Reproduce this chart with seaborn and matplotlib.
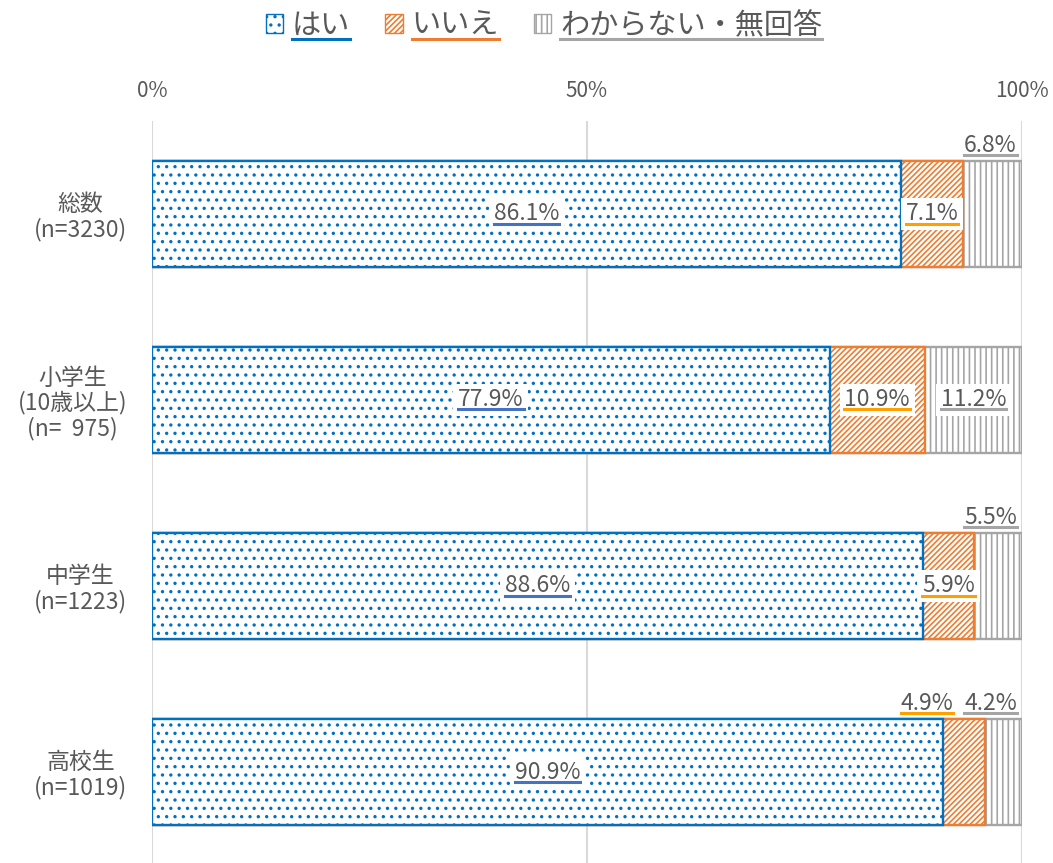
import numpy as np
import pandas as pd
import seaborn as sns
import matplotlib.pyplot as plt
import matplotlib.patches as mypatch
from matplotlib.lines import Line2D

## data
categories = ['総数\n(n=3230)', '小学生\n(10歳以上)\n(n=  975)', '中学生\n(n=1223)', '高校生\n(n=1019)']
series = ['はい', 'いいえ', 'わからない・無回答']
yes_vals = [86.1, 77.9, 88.6, 90.9]
no_vals = [7.1, 10.9, 5.9, 4.9]
dk_vals = [6.8, 11.2, 5.5, 4.2]

## style
plt.rcParams['font.family'] = ['Noto Sans CJK JP', 'DejaVu Sans']
plt.rcParams['hatch.linewidth'] = 1.2
txt_col = '#595959'
colors = {'はい': '#0070C0', 'いいえ': '#ED7D31', 'わからない・無回答': '#A5A5A5'}
hatches = {'はい': '..', 'いいえ': '//////', 'わからない・無回答': '|||'}
line_cols = {'はい': '#4472C4', 'いいえ': '#FFA000', 'わからない・無回答': '#A5A5A5'}
fs = 16.5

df = pd.DataFrame({'cat': categories, 'yes': yes_vals, 'no': no_vals, 'dk': dk_vals})
df['c1'] = df['yes']
df['c2'] = df['yes'] + df['no']
df['c3'] = df['yes'] + df['no'] + df['dk']

fig = plt.figure(figsize=(10.53, 8.63), dpi=100)
ax = fig.add_axes([152/1053, 0, 870/1053, 742/863])

## stacked bars drawn as cumulative, largest first
for col, s in [('c3', series[2]), ('c2', series[1]), ('c1', series[0])]:
    sns.barplot(data=df, y='cat', x=col, orient='h', color='white', saturation=1,
                edgecolor=colors[s], hatch=hatches[s], linewidth=1.7,
                width=0.565, errorbar=None, ax=ax)

ax.set_xlim(0, 100)
ax.set_ylim(-0.5 + 742/186, -0.5)
ax.set_xticks([0, 50, 100])
ax.set_xticklabels(['0%', '50%', '100%'])
ax.xaxis.tick_top()
ax.tick_params(axis='x', length=0, pad=14, labelsize=15, labelcolor=txt_col)
ax.tick_params(axis='y', length=0, pad=18, labelsize=16.5, labelcolor=txt_col)
for lab in ax.get_yticklabels():
    lab.set_ha('right')
    lab.set_multialignment('center')
    lab.set_linespacing(1.08)
ax.set_xlabel('')
ax.set_ylabel('')
ax.grid(axis='x', color='#D9D9D9', linewidth=1.5)
ax.set_axisbelow(True)
for sp in ax.spines.values():
    sp.set_visible(False)

## data labels
labels = []
bbox = dict(facecolor='white', edgecolor='none', pad=3.5)
for i in range(len(categories)):
    t = ax.text(df['yes'][i] / 2, i, f'{yes_vals[i]:.1f}%', ha='center', va='center',
                fontsize=fs, color=txt_col, bbox=bbox)
    labels.append((t, line_cols['はい']))
    # いいえ
    if i == 3:
        t = ax.text(92.1, i - 0.37, f'{no_vals[i]:.1f}%', ha='right', va='center',
                    fontsize=fs, color=txt_col)
    else:
        t = ax.text(df['yes'][i] + no_vals[i] / 2, i, f'{no_vals[i]:.1f}%', ha='center',
                    va='center', fontsize=fs, color=txt_col, bbox=bbox)
    labels.append((t, line_cols['いいえ']))
    # わからない
    if i == 1:
        t = ax.text(df['c2'][i] + dk_vals[i] / 2, i, f'{dk_vals[i]:.1f}%', ha='center',
                    va='center', fontsize=fs, color=txt_col, bbox=bbox)
    else:
        t = ax.text(99.4, i - 0.37, f'{dk_vals[i]:.1f}%', ha='right', va='center',
                    fontsize=fs, color=txt_col)
    labels.append((t, line_cols['わからない・無回答']))

## legend
handles = [mypatch.Patch(facecolor='white', edgecolor=colors[s], hatch=hatches[s], label=s)
           for s in series]
leg = fig.legend(handles=handles, loc='center', bbox_to_anchor=(544/1053, 1 - 26/863),
                 ncol=3, frameon=False, fontsize=21, handlelength=0.6, handleheight=0.6,
                 handletextpad=0.3, columnspacing=1.2, labelcolor=txt_col)
for t, s in zip(leg.get_texts(), series):
    labels.append((t, colors[s]))

## underlines
fig.canvas.draw()
inv = fig.transFigure.inverted()
for t, c in labels:
    bb = t.get_window_extent()
    (x0, y0), (x1, y1) = inv.transform([(bb.x0, bb.y0 + 2), (bb.x1, bb.y0 + 2)])
    fig.add_artist(Line2D([x0, x1], [y0, y1], color=c, linewidth=2.2))

fig.savefig('out.png', dpi=100)
